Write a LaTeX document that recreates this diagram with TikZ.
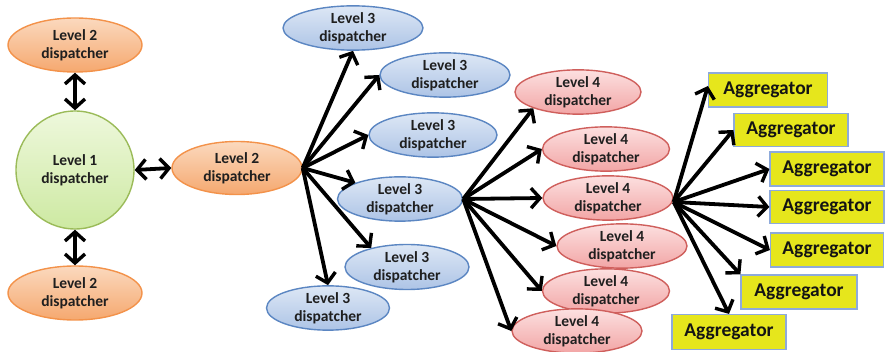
\documentclass[tikz,border=0pt]{standalone}
\usepackage{fontspec}
\setmainfont{Carlito}
\usetikzlibrary{shapes.geometric,arrows.meta}
\definecolor{orgline}{HTML}{F3924A}
\definecolor{orgtop}{HTML}{FBD9BE}
\definecolor{orgbot}{HTML}{F5A86F}
\definecolor{grnline}{HTML}{9BBB59}
\definecolor{grntop}{HTML}{EEF8DC}
\definecolor{grnbot}{HTML}{CDE9A2}
\definecolor{bluline}{HTML}{5B86C2}
\definecolor{blutop}{HTML}{DDE7F5}
\definecolor{blubot}{HTML}{ADC4E6}
\definecolor{pnkline}{HTML}{CF5F5C}
\definecolor{pnktop}{HTML}{FCE0E0}
\definecolor{pnkbot}{HTML}{F2A5A5}
\definecolor{aggfill}{HTML}{E6E61C}
\definecolor{aggline}{HTML}{8EAADB}
\begin{document}
\begin{tikzpicture}[x=1pt,y=-1pt,
  lbl/.style={font=\bfseries\fontsize{15.5}{18}\selectfont, text=black!88, align=center},
  disp/.style={ellipse, lbl, draw, line width=1.4pt, inner sep=0pt},
  lvone/.style={circle, lbl, draw=grnline, line width=1.4pt, top color=grntop, bottom color=grnbot, minimum size=118pt, inner sep=0pt},
  lvtwo/.style={disp, draw=orgline, top color=orgtop, bottom color=orgbot, minimum width=134pt, minimum height=54pt},
  lvthree/.style={disp, draw=bluline, top color=blutop, bottom color=blubot, minimum width=126pt, minimum height=43pt},
  lvfour/.style={disp, draw=pnkline, top color=pnktop, bottom color=pnkbot, minimum width=128pt, minimum height=42pt},
  aggbox/.style={rectangle, draw=aggline, fill=aggfill, line width=1.2pt, text=black!92,
    font=\bfseries\fontsize{19.5}{22}\selectfont, minimum width=115pt, minimum height=34pt, inner sep=0pt},
  tip/.tip={Straight Barb[length=9pt,width=20pt,line width=3.4pt]},
  arr/.style={line width=3.8pt, -tip},
  darr/.style={line width=3.8pt, tip-tip},
]
\useasboundingbox (0,0) rectangle (886,352);

% level 1 and level 2 dispatchers
\node[lvone] (l1) at (75,170) {Level 1\\dispatcher};
\node[lvtwo] (l2t) at (75,45) {Level 2\\dispatcher};
\node[lvtwo] (l2b) at (75,293) {Level 2\\dispatcher};
\node[lvtwo, minimum width=130pt, minimum height=53pt] (l2m) at (237,168) {Level 2\\dispatcher};

% level 3 dispatchers
\node[lvthree, minimum width=140pt] (l3a) at (353,28) {Level 3\\dispatcher};
\node[lvthree, minimum width=130pt, minimum height=44pt] (l3b) at (445,75) {Level 3\\dispatcher};
\node[lvthree, minimum width=128pt, minimum height=44pt] (l3c) at (433,135) {Level 3\\dispatcher};
\node[lvthree, minimum width=125pt, minimum height=42pt] (l3d) at (400,199) {Level 3\\dispatcher};
\node[lvthree, minimum width=124pt, minimum height=45pt] (l3e) at (407,267) {Level 3\\dispatcher};
\node[lvthree, minimum width=123pt] (l3f) at (328,308) {Level 3\\dispatcher};

% level 4 dispatchers
\node[lvfour, minimum width=126pt, minimum height=41pt] (l4a) at (578,92) {Level 4\\dispatcher};
\node[lvfour, minimum width=127pt] (l4b) at (606,149) {Level 4\\dispatcher};
\node[lvfour, minimum width=130pt, minimum height=41pt] (l4c) at (608,198) {Level 4\\dispatcher};
\node[lvfour, minimum width=130pt] (l4d) at (622,246) {Level 4\\dispatcher};
\node[lvfour, minimum width=127pt, minimum height=43pt] (l4e) at (606,291) {Level 4\\dispatcher};
\node[lvfour, minimum width=130pt, minimum height=40pt] (l4f) at (577,331) {Level 4\\dispatcher};

% aggregators
\node[aggbox, minimum width=119pt] (a1) at (768,90) {Aggregator};
\node[aggbox, minimum width=114pt, minimum height=33pt] (a2) at (791,130) {Aggregator};
\node[aggbox, minimum width=114pt] (a3) at (827,169) {Aggregator};
\node[aggbox, minimum width=114pt, minimum height=33pt] (a4) at (827,207) {Aggregator};
\node[aggbox, minimum width=113pt] (a5) at (827,250) {Aggregator};
\node[aggbox, minimum width=116pt] (a6) at (799,292) {Aggregator};
\node[aggbox, minimum width=114pt, minimum height=35pt] (a7) at (729,332) {Aggregator};

% level 1 <-> level 2
\draw[darr] (l2t.south) -- (l1.north);
\draw[darr] (l1.south) -- (l2b.north);
\draw[darr] (l1.east) -- (l2m.west);

% level 2 -> level 3
\coordinate (h2) at (l2m.east);
\draw[arr] (h2) -- (l3a.south);
\draw[arr] (h2) -- (l3b.west);
\draw[arr] (h2) -- (l3c.west);
\draw[arr] (h2) -- (l3d.160);
\draw[arr] (h2) -- (l3e.152);
\draw[arr] (h2) -- (l3f.north);

% level 3 -> level 4
\coordinate (h3) at (l3d.east);
\draw[arr] (h3) -- (l4a.200);
\draw[arr] (h3) -- (l4b.west);
\draw[arr] (h3) -- (l4c.west);
\draw[arr] (h3) -- (l4d.west);
\draw[arr] (h3) -- (l4e.west);
\draw[arr] (h3) -- (l4f.west);

% level 4 -> aggregators
\coordinate (h4) at ([yshift=-4pt]l4c.east);
\draw[arr] (h4) -- ([yshift=4pt]a1.west);
\draw[arr] (h4) -- (a2.west);
\draw[arr] (h4) -- (a3.west);
\draw[arr] (h4) -- (a4.west);
\draw[arr] (h4) -- (a5.west);
\draw[arr] (h4) -- (a6.north west);
\draw[arr] (h4) -- (a7.north);
\end{tikzpicture}
\end{document}
